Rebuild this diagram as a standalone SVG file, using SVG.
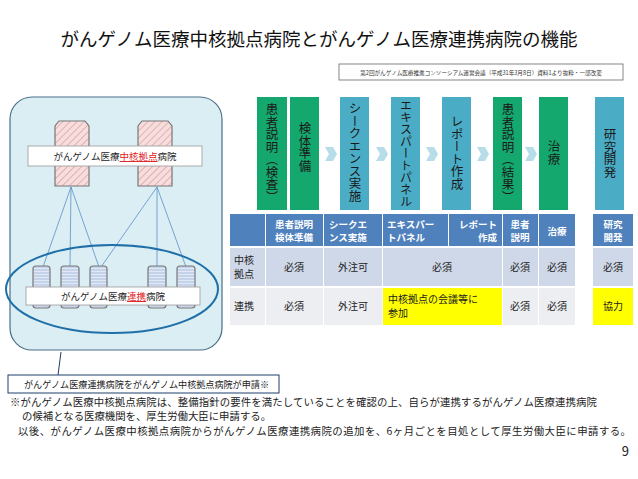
<svg xmlns="http://www.w3.org/2000/svg" width="638" height="479" viewBox="0 0 638 479">
<defs>
<pattern id="hatch" width="5" height="5" patternUnits="userSpaceOnUse" patternTransform="rotate(45)">
<rect width="5" height="5" fill="#f7dede"/><line x1="0" y1="0" x2="0" y2="5" stroke="#e0a0a0" stroke-width="1.5"/>
</pattern>
<pattern id="stripe" width="4" height="3" patternUnits="userSpaceOnUse">
<rect width="4" height="3" fill="#c5d3ea"/><line x1="0" y1="1.5" x2="4" y2="1.5" stroke="#e8eef8" stroke-width="0.8"/>
</pattern>
</defs>
<style>
text{font-family:"Noto Sans CJK JP","Liberation Sans",sans-serif;}
.g{fill:#15a86e}.b{fill:#4bacc6}
.vt{writing-mode:vertical-rl;font-size:12.5px;fill:#1a1a1a}
.hd{fill:#4f81bd}.hdt{fill:#fff;font-size:9.5px;font-weight:bold}
.r1{fill:#cfd8e8}.r2{fill:#eceef2}.y{fill:#ffff00}
.ct{font-size:10px;fill:#222;text-anchor:middle}
.ln{stroke:#5b8fc7;stroke-width:0.8;fill:none}
.arr{fill:#b7dde8}
.core{fill:url(#hatch);stroke:#777;stroke-width:1.2}
.sat{fill:url(#stripe);stroke:#777;stroke-width:1.2}
.lbl{fill:#fff;stroke:#999;stroke-width:0.8}
.note{font-size:10.4px;fill:#222}
</style>
<rect width="638" height="479" fill="#fff"/>
<text x="319" y="46" font-size="18.5" text-anchor="middle" fill="#111">がんゲノム医療中核拠点病院とがんゲノム医療連携病院の機能</text>
<rect x="339" y="64" width="284" height="16" fill="#fff" stroke="#666" stroke-width="0.8"/>
<text x="481" y="75" font-size="5.6" text-anchor="middle" fill="#333">第2回がんゲノム医療推進コンソーシアム運営会議（平成31年3月8日）資料1より抜粋・一部改変</text>

<g id="network">
<rect x="10" y="97" width="212" height="253" rx="22" fill="#dbeef4" stroke="#4a6f8a" stroke-width="1.2"/>
<g id="connectors">
<line class="ln" x1="71" y1="187" x2="43" y2="267"/>
<line class="ln" x1="71" y1="187" x2="70" y2="267"/>
<line class="ln" x1="71" y1="187" x2="99" y2="267"/>
<line class="ln" x1="157" y1="187" x2="101" y2="267"/>
<line class="ln" x1="157" y1="187" x2="157" y2="267"/>
<line class="ln" x1="157" y1="187" x2="186" y2="267"/>
<line x1="61" y1="352" x2="58" y2="375" stroke="#1f3f6a" stroke-width="1"/>
</g>
<g id="core-hospitals">
<path class="core" d="M59,121 H85 L89,126 V186 H55 V126 Z"/>
<path class="core" d="M142,121 H168 L172,126 V186 H138 V126 Z"/>
<rect class="lbl" x="28" y="146" width="174" height="20"/>
<text x="115" y="160" font-size="9.5" text-anchor="middle" fill="#222">がんゲノム医療<tspan fill="#e02020" text-decoration="underline">中核拠点</tspan>病院</text>
</g>
<g id="partner-hospitals">
<rect class="sat" x="33" y="266" width="17" height="42" rx="3"/>
<rect class="sat" x="61" y="266" width="18" height="42" rx="3"/>
<rect class="sat" x="90" y="266" width="17" height="42" rx="3"/>
<rect class="sat" x="148" y="266" width="18" height="42" rx="3"/>
<rect class="sat" x="177" y="266" width="18" height="42" rx="3"/>
<rect class="lbl" x="26" y="287" width="174" height="18"/>
<text x="113" y="300" font-size="9.5" text-anchor="middle" fill="#222">がんゲノム医療<tspan fill="#e02020" text-decoration="underline">連携</tspan>病院</text>
<ellipse cx="112" cy="289" rx="106" ry="44" fill="none" stroke="#1f6fa8" stroke-width="2"/>
</g>
</g>

<g id="callout">
<rect x="8" y="375" width="271" height="18" fill="#fff" stroke="#1f3f6a" stroke-width="1"/>
<text x="24" y="388" font-size="9.6" fill="#222" textLength="245" lengthAdjust="spacingAndGlyphs">がんゲノム医療連携病院をがんゲノム中核拠点病院が申請※</text>
</g>

<g id="process">
<rect class="g" x="257" y="97" width="30" height="113"/>
<text class="vt" x="272" y="103">患者説明︵検査︶</text>
<rect class="g" x="290" y="97" width="29" height="113"/>
<text class="vt" x="305" y="122">検体準備</text>
<polygon class="arr" points="325,147 333,147 337,154 333,161 325,161 329,154"/>
<rect class="b" x="340" y="97" width="29" height="113"/>
<text class="vt" x="355" y="102">シークエンス実施</text>
<polygon class="arr" points="376,147 384,147 388,154 384,161 376,161 380,154"/>
<rect class="b" x="391" y="97" width="29" height="113"/>
<text class="vt" x="406" y="99" style="font-size:12px">エキスパートパネル</text>
<polygon class="arr" points="426,147 434,147 438,154 434,161 426,161 430,154"/>
<rect class="b" x="442" y="97" width="29" height="113"/>
<text class="vt" x="457" y="115">レポート作成</text>
<polygon class="arr" points="477,147 485,147 489,154 485,161 477,161 481,154"/>
<rect class="g" x="493" y="97" width="29" height="113"/>
<text class="vt" x="508" y="103">患者説明︵結果︶</text>
<polygon class="arr" points="525,147 533,147 537,154 533,161 525,161 529,154"/>
<rect class="g" x="539" y="97" width="29" height="113"/>
<text class="vt" x="554" y="140">治療</text>
<rect class="b" x="595" y="97" width="29" height="113"/>
<text class="vt" x="610" y="128">研究開発</text>
</g>

<g id="table">
<rect class="hd" x="230" y="214" width="35" height="32"/>
<rect class="hd" x="266" y="214" width="57" height="32"/>
<rect class="hd" x="324" y="214" width="58" height="32"/>
<rect class="hd" x="383" y="214" width="65" height="32"/>
<rect class="hd" x="449" y="214" width="53" height="32"/>
<rect class="hd" x="503" y="214" width="35" height="32"/>
<rect class="hd" x="539" y="214" width="36" height="32"/>
<rect class="hd" x="593" y="214" width="40" height="32"/>
<text class="hdt" x="294" y="228" text-anchor="middle">患者説明</text>
<text class="hdt" x="294" y="241" text-anchor="middle">検体準備</text>
<text class="hdt" x="329" y="228">シークエ</text>
<text class="hdt" x="329" y="241">ンス実施</text>
<text class="hdt" x="387" y="228">エキスパー</text>
<text class="hdt" x="387" y="241">トパネル</text>
<text class="hdt" x="497" y="228" text-anchor="end">レポート</text>
<text class="hdt" x="497" y="241" text-anchor="end">作成</text>
<text class="hdt" x="520" y="228" text-anchor="middle">患者</text>
<text class="hdt" x="520" y="241" text-anchor="middle">説明</text>
<text class="hdt" x="557" y="235" text-anchor="middle">治療</text>
<text class="hdt" x="613" y="228" text-anchor="middle">研究</text>
<text class="hdt" x="613" y="241" text-anchor="middle">開発</text>

<rect class="r1" x="230" y="248" width="35" height="38"/>
<rect class="r1" x="266" y="248" width="57" height="38"/>
<rect class="r1" x="324" y="248" width="58" height="38"/>
<rect class="r1" x="383" y="248" width="119" height="38"/>
<rect class="r1" x="503" y="248" width="35" height="38"/>
<rect class="r1" x="539" y="248" width="36" height="38"/>
<rect class="r1" x="593" y="248" width="40" height="38"/>
<text x="234" y="264" font-size="10" fill="#222">中核</text>
<text x="234" y="278" font-size="10" fill="#222">拠点</text>
<text class="ct" x="294" y="271">必須</text>
<text class="ct" x="353" y="271">外注可</text>
<text class="ct" x="442" y="271">必須</text>
<text class="ct" x="520" y="271">必須</text>
<text class="ct" x="557" y="271">必須</text>
<text class="ct" x="613" y="271">必須</text>

<rect class="r2" x="230" y="288" width="35" height="37"/>
<rect class="r2" x="266" y="288" width="57" height="37"/>
<rect class="r2" x="324" y="288" width="58" height="37"/>
<rect class="y" x="383" y="288" width="119" height="37"/>
<rect class="r2" x="503" y="288" width="35" height="37"/>
<rect class="r2" x="539" y="288" width="36" height="37"/>
<rect class="y" x="593" y="288" width="40" height="37"/>
<text x="234" y="310" font-size="10" fill="#222">連携</text>
<text class="ct" x="294" y="310">必須</text>
<text class="ct" x="353" y="310">外注可</text>
<text x="388" y="303" font-size="10" fill="#222">中核拠点の会議等に</text>
<text x="388" y="317" font-size="10" fill="#222">参加</text>
<text class="ct" x="520" y="310">必須</text>
<text class="ct" x="557" y="310">必須</text>
<text class="ct" x="613" y="310">協力</text>
</g>

<g id="notes">
<text class="note" x="10" y="406" textLength="587" lengthAdjust="spacing">※がんゲノム医療中核拠点病院は、整備指針の要件を満たしていることを確認の上、自らが連携するがんゲノム医療連携病院</text>
<text class="note" x="22" y="420">の候補となる医療機関を、厚生労働大臣に申請する。</text>
<text class="note" x="18" y="435" textLength="613" lengthAdjust="spacing">以後、がんゲノム医療中核拠点病院からがんゲノム医療連携病院の追加を、6ヶ月ごとを目処として厚生労働大臣に申請する。</text>
<text x="629" y="456" font-size="13" text-anchor="end" fill="#222">9</text>
</g>
</svg>
